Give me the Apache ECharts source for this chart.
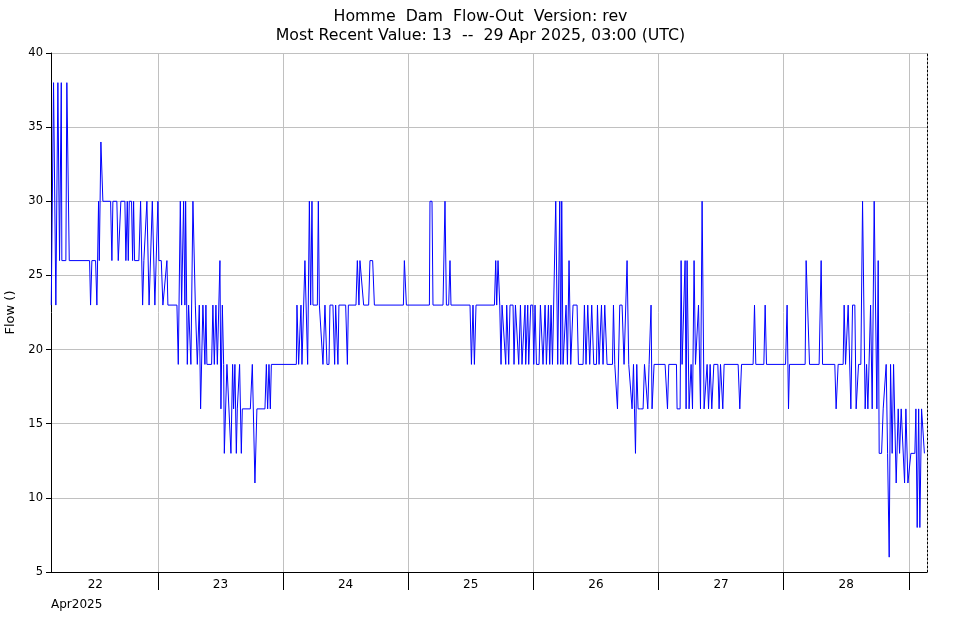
<!DOCTYPE html>
<html>
<head>
<meta charset="utf-8">
<title>Homme Dam Flow-Out</title>
<script src="https://cdn.jsdelivr.net/npm/echarts@6/dist/echarts.min.js"></script>
<style>
  html, body { margin: 0; padding: 0; background: #fff; }
  #chart { width: 961px; height: 620px; }
</style>
</head>
<body>
<div id="chart"></div>
<script>
var hours = [
  3.55, 3.99, 4.43, 4.82, 5.14, 5.33, 5.47, 5.58, 6.35, 6.54, 7.00, 10.90, 11.09, 11.34, 12.05, 12.30,
  12.62, 12.76, 13.07, 13.45, 14.93, 15.18, 15.37, 16.13, 16.40, 16.71, 16.90, 17.67, 17.86, 18.13,
  18.32, 18.51, 18.95, 19.15, 19.34, 19.53, 20.35, 20.68, 21.07, 21.31, 21.64, 21.89, 22.31,
  22.93, 23.42, 24.00, 24.19, 24.65, 24.96, 25.34, 25.73, 25.92, 27.65, 27.91, 28.30, 28.55, 28.74,
  28.93, 29.18, 29.32, 29.64, 29.89, 30.08, 30.33, 30.72, 31.18, 31.56, 31.75, 31.94, 32.19, 32.63,
  33.02, 33.21, 33.40, 34.30, 34.55, 34.82, 35.13, 35.40, 35.70, 35.90, 36.09, 36.36, 36.61, 36.74,
  37.24, 37.51, 38.01, 38.33, 38.52, 38.77, 39.04, 39.23, 39.43, 39.67, 40.00, 40.19, 41.73, 42.11,
  42.61, 42.99, 44.53, 44.80, 45.05, 45.30, 45.56, 45.76,
  50.55, 50.67, 50.99, 51.19, 51.44, 51.63, 52.20, 52.72, 53.05, 53.30, 53.55, 53.74, 54.58, 54.77,
  54.97, 55.35, 55.66, 56.04, 56.42, 56.81, 57.00, 57.57, 57.90, 58.09, 58.53, 58.72, 60.01, 60.34,
  60.53, 61.99, 62.25, 62.56, 62.75, 63.08, 63.46, 64.42, 64.67, 65.19, 65.52, 71.08, 71.27, 71.66,
  76.07, 76.18, 76.57, 76.76, 78.68, 79.06, 79.33, 79.77, 80.02, 80.21, 83.86, 84.13, 84.43, 84.70,
  85.01, 88.54, 88.79, 88.98, 89.23, 89.56, 89.81, 90.00, 90.38, 90.71, 90.90, 91.28, 91.53, 92.11,
  92.30, 92.57, 92.95, 93.20, 93.53, 93.83, 94.16, 94.41, 94.54, 94.93, 95.12, 95.50, 95.89, 96.08,
  96.33, 96.60, 97.10, 97.36, 97.61, 97.86, 98.25, 98.51, 98.90, 99.15, 99.40, 99.67, 100.05, 100.30,
  100.49, 100.68, 101.07, 101.26, 101.45, 101.70, 102.08, 102.28, 102.54, 102.85, 103.18, 103.62,
  104.39, 104.65, 105.54, 105.80, 106.11, 106.44, 106.82, 107.20, 107.59, 108.11, 108.30, 108.61,
  109.07, 109.37, 109.70, 110.14, 111.18, 111.37, 111.62, 111.81, 112.14, 112.58, 113.02, 113.40,
  113.73, 113.98, 114.30, 114.63, 114.94, 115.21, 115.40, 115.59, 115.84, 116.09, 116.55, 117.05,
  117.32, 117.70, 117.95, 118.20, 118.58, 118.77, 119.16, 121.27, 121.73, 121.98,
  123.45, 123.57, 124.15, 124.34, 124.53, 124.91, 125.11, 125.30, 125.49, 125.87, 126.26, 126.53,
  126.83, 127.10, 127.41, 127.68, 128.06, 128.37, 128.75, 129.08, 129.33, 129.60, 129.91, 130.23,
  130.62, 131.39, 131.63, 131.90, 132.09, 132.34, 132.59, 135.28, 135.60, 135.93, 138.15, 138.42,
  138.67, 140.21, 140.46, 140.72, 144.37, 144.67, 144.94, 145.13,
  148.13, 148.32, 148.65, 148.97, 150.81, 151.20, 151.47, 153.82, 154.07, 154.46, 155.42, 155.61,
  155.88, 156.19, 156.38, 156.57, 156.90, 157.22, 157.66, 157.91, 158.18, 158.37, 158.81, 159.14,
  159.64, 159.91, 160.16, 160.41, 160.68, 160.99, 161.37, 161.89, 162.14, 162.33, 162.79, 163.10,
  163.42, 163.67, 163.94, 164.25, 164.51, 164.82, 165.09, 165.40, 165.59, 165.98, 166.24, 166.55,
  166.82, 167.20, 167.45, 167.84, 168.08, 168.41, 169.17, 169.37, 169.62, 169.90, 170.13, 170.46,
  170.75, 171.00
];
var flow = [
  23, 38, 23, 38, 26, 26, 38, 26, 26, 38, 26, 26, 23, 26, 26, 23,
  30, 26, 34, 30, 30, 26, 30, 30, 26, 26, 30, 30, 26, 30,
  26, 30, 30, 26, 30, 26, 26, 30, 23, 26, 26, 30, 23,
  30, 23, 30, 26, 26, 23, 23, 26, 23, 23, 19, 30, 23, 23,
  30, 23, 30, 19, 23, 23, 19, 30, 23, 19, 19, 23, 16, 23,
  19, 23, 19, 19, 23, 19, 23, 19, 19, 26, 16, 23, 19, 13,
  19, 19, 13, 19, 16, 19, 13, 16, 16, 19, 13, 16, 16, 19,
  11, 16, 16, 19, 16, 19, 16, 19,
  19, 23, 19, 19, 23, 19, 26, 19, 30, 23, 30, 23, 23, 30,
  23, 23, 19, 23, 19, 19, 23, 23, 19, 23, 19, 23, 23, 19,
  23, 23, 26, 23, 26, 26, 23, 23, 26, 26, 23, 23, 26, 23,
  23, 30, 30, 23, 23, 30, 23, 23, 26, 23, 23, 19, 23, 19,
  23, 23, 26, 23, 26, 23, 19, 23, 23, 19, 23, 19, 23, 23,
  19, 23, 23, 19, 23, 19, 19, 23, 19, 23, 19, 23, 23, 19,
  23, 19, 19, 23, 23, 19, 23, 19, 23, 19, 23, 19, 19, 30,
  30, 19, 30, 19, 30, 19, 19, 23, 19, 26, 19, 23,
  23, 19, 19, 23, 19, 23, 19, 23, 19, 19, 23, 19,
  23, 19, 23, 19, 19, 23, 19, 19, 16, 23, 23, 19,
  19, 26, 19, 19, 16, 19, 16, 13, 19, 16, 16, 16,
  19, 19, 16, 19, 23, 16, 19, 19, 16, 19,
  19, 16, 16, 26, 19, 19, 26, 16, 26, 16, 19, 16,
  26, 19, 19, 23, 16, 30, 16, 16, 19, 16, 19, 16,
  19, 19, 16, 19, 19, 16, 19, 19, 16, 19, 19, 23,
  19, 19, 23, 19, 19, 23, 16, 19,
  19, 26, 26, 19, 19, 26, 19, 19, 16, 19, 19, 23,
  19, 19, 23, 23, 16, 23, 23, 16, 16, 19, 19, 30,
  16, 19, 16, 16, 23, 16, 30, 16, 26, 13, 13, 16,
  16, 19, 13, 6, 19, 13, 19, 19, 11, 16, 13, 16,
  16, 11, 16, 11, 11, 13, 13, 16, 8, 16, 8, 16,
  16, 13
];
// day ticks at midnight, day labels at noon
var dayTicks = [24, 48, 72, 96, 120, 144, 168];
var dayLabelPos = [12, 36, 60, 84, 108, 132, 156];
var dayLabels = ['22', '23', '24', '25', '26', '27', '28'];
var yMin = 5, yMax = 40, yStep = 5;

var chart = echarts.init(document.getElementById('chart'));
var fontFamily = 'DejaVu Sans';
var last = flow[flow.length - 1];

chart.setOption({
  animation: false,
  textStyle: { fontFamily: fontFamily, color: '#000' },
  title: {
    text: 'Homme  Dam  Flow-Out  Version: rev\nMost Recent Value: ' + last + '  --  29 Apr 2025, 03:00 (UTC)',
    left: 'center',
    top: 2,
    textStyle: { fontFamily: fontFamily, fontSize: 15.8, fontWeight: 'normal', color: '#000', lineHeight: 19 }
  },
  grid: { left: 51, right: 34, top: 53, bottom: 48, containLabel: false, outerBoundsMode: 'none' },
  xAxis: {
    type: 'value',
    min: 3.5,
    max: 171.5,
    name: 'Apr2025',
    nameLocation: 'start',
    nameGap: 0,
    nameTextStyle: { align: 'left', verticalAlign: 'top', padding: [27, 0, 0, 0], fontSize: 12, color: '#000' },
    axisLine: { lineStyle: { color: '#000', width: 1 } },
    axisTick: { customValues: dayTicks, length: 18, lineStyle: { color: '#000' } },
    axisLabel: {
      customValues: dayLabelPos,
      fontSize: 12,
      color: '#000',
      margin: 7,
      formatter: function (v) { return dayLabels[dayLabelPos.indexOf(v)]; }
    },
    splitLine: { show: true, lineStyle: { color: '#c0c0c0', width: 1 } }
  },
  yAxis: [{
    type: 'value',
    min: yMin,
    max: yMax,
    interval: yStep,
    name: 'Flow ()',
    nameLocation: 'middle',
    nameGap: 34,
    nameTextStyle: { fontSize: 13, color: '#000' },
    axisLine: { show: true, lineStyle: { color: '#000' } },
    axisTick: { show: true, length: 5, lineStyle: { color: '#000' } },
    axisLabel: { fontSize: 11.5, color: '#000', margin: 8 },
    splitLine: { show: true, lineStyle: { color: '#c0c0c0', width: 1 } }
  }, {
    type: 'value',
    position: 'right',
    min: yMin,
    max: yMax,
    axisLine: { show: true, lineStyle: { color: '#000', type: [2, 2] } },
    axisTick: { show: false },
    axisLabel: { show: false },
    splitLine: { show: false }
  }],
  series: [{
    type: 'line',
    data: hours.map(function (h, i) { return [h, flow[i]]; }),
    showSymbol: false,
    lineStyle: { color: '#0000ff', width: 1 },
    itemStyle: { color: '#0000ff' }
  }]
});
</script>
</body>
</html>
